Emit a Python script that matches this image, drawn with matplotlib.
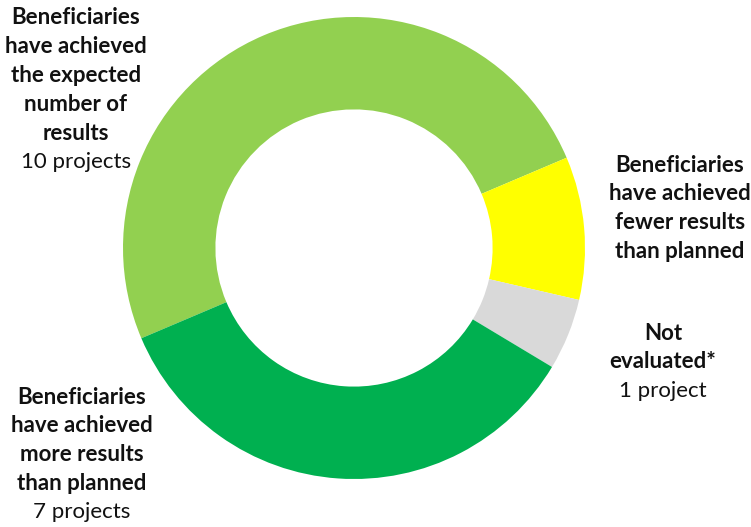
import matplotlib.pyplot as plt

plt.rcParams['font.family'] = ['Lato', 'DejaVu Sans']

# data
categories = ['Beneficiaries\nhave achieved\nthe expected\nnumber of\nresults',
              'Beneficiaries\nhave achieved\nfewer results\nthan planned',
              'Not\nevaluated*',
              'Beneficiaries\nhave achieved\nmore results\nthan planned']
counts = [10, 2, 1, 7]
count_labels = ['10 projects', '', '1 project', '7 projects']
colors = ['#92D050', '#FFFF00', '#D9D9D9', '#00B050']

W, H = 751, 527
fig = plt.figure(figsize=(W / 100, H / 100), dpi=100)
ax = fig.add_axes([0, 0, 1, 1])

ax.pie(counts, colors=colors, startangle=203, counterclock=False,
       radius=1.0, wedgeprops=dict(width=0.4, linewidth=0))

# map pixels -> data so that the ring sits where it does in the original
R = 231.0
cx, cy = 354.0, 248.0
ax.set_aspect('auto')
ax.set_xlim(-cx / R, (W - cx) / R)
ax.set_ylim(-(H - cy) / R, cy / R)
ax.axis('off')

# label blocks: (center x px, first line y px)
label_pos = [(76, 18), (680, 165), (663, 333), (82, 397)]
step = 28.8
for name, cnt, (x, y) in zip(categories, count_labels, label_pos):
    lines = name.split('\n')
    for i, ln in enumerate(lines):
        fig.text(x / W, 1 - (y + i * step) / H, ln, ha='center', va='center',
                 fontsize=16, fontweight='bold', color='#111111')
    if cnt:
        fig.text(x / W, 1 - (y + len(lines) * step) / H, cnt, ha='center',
                 va='center', fontsize=16, color='#111111')

fig.savefig('out.png', dpi=100)
